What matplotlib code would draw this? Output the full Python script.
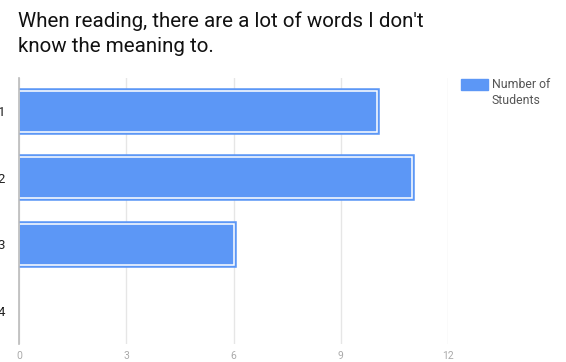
import matplotlib
matplotlib.use("Agg")
import matplotlib.pyplot as plt
import matplotlib.patheffects as pe

categories = ["1", "2", "3", "4"]
values = [10, 11, 6, 0]
x_ticks = [0, 3, 6, 9, 12]
title = "When reading, there are a lot of words I don't\nknow the meaning to."
series_name = "Number of\nStudents"

blue = "#5c97f6"
plt.rcParams['font.family'] = ['Roboto', 'DejaVu Sans']

fig = plt.figure(figsize=(5.66, 3.62), dpi=100)
ax = fig.add_axes([19/566, 1 - 344/362, (448-19)/566, (344-78)/362])

ypos = list(range(len(categories)))
bars = ax.barh(ypos, values, height=0.61, color=blue, edgecolor="white", linewidth=1.1,
               path_effects=[pe.Stroke(linewidth=4.0, foreground=blue), pe.Normal()], zorder=3)
for b, v in zip(bars, values):
    if v == 0:
        b.set_visible(False)

ax.set_ylim(len(categories) - 0.5, -0.5)
ax.set_xlim(0, 12)
ax.set_yticks(ypos)
ax.set_yticklabels(categories, fontsize=9.5, color="#222222")
ax.set_xticks(x_ticks)
ax.set_xticklabels([str(t) for t in x_ticks], fontsize=7.5, color="#aaaaaa")
ax.tick_params(axis="y", length=0, pad=10)
ax.tick_params(axis="x", length=0, pad=5)
ax.grid(axis="x", color="#e6e6e6", linewidth=1, zorder=0)
for s in ["top", "right", "bottom"]:
    ax.spines[s].set_visible(False)
ax.spines["left"].set_color("#bbbbbb")
ax.spines["left"].set_linewidth(1.2)
ax.spines["left"].set_zorder(4)

fig.text(18/566, 1 - 11/362, title, fontsize=14.8, color="#111111",
         va="top", ha="left", linespacing=1.42)

# legend
fig.patches.append(plt.Rectangle((461/566, 1 - 90/362), 27/566, 11/362,
                                 transform=fig.transFigure, color=blue, figure=fig))
fig.text(492/566, 1 - 78/362, series_name, fontsize=8.8, color="#555555",
         va="top", ha="left", linespacing=1.3)

fig.savefig("out.png", dpi=100)
